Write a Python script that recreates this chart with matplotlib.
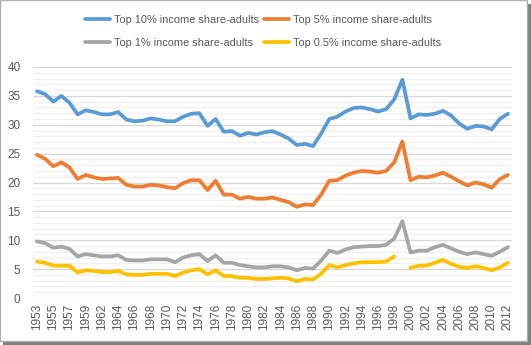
import matplotlib.pyplot as plt
import matplotlib.patches as mpatches
import numpy as np

# years in the sheet (1961 missing)
years = list(range(1953, 1961)) + list(range(1962, 2013))

top10 = [35.8, 35.3, 34.0, 35.0, 33.8, 31.8, 32.5, 32.2, 31.8, 31.8,
         32.2, 30.9, 30.6, 30.7, 31.1, 30.9, 30.6, 30.6, 31.4, 31.9,
         32.0, 29.8, 31.0, 28.8, 28.9, 28.1, 28.6, 28.3, 28.7, 28.9,
         28.3, 27.6, 26.5, 26.7, 26.3, 28.5, 31.0, 31.4, 32.3, 32.9,
         33.0, 32.7, 32.3, 32.7, 34.4, 37.8, 31.1, 31.8, 31.7, 31.9,
         32.4, 31.6, 30.2, 29.3, 29.8, 29.7, 29.2, 31.0, 31.9]

top5 = [24.8, 24.1, 22.8, 23.5, 22.6, 20.6, 21.3, 20.9, 20.6, 20.7,
        20.8, 19.6, 19.3, 19.3, 19.6, 19.5, 19.2, 19.0, 19.9, 20.4,
        20.4, 18.7, 20.3, 17.9, 17.9, 17.2, 17.5, 17.2, 17.2, 17.4,
        17.0, 16.6, 15.8, 16.2, 16.1, 17.9, 20.3, 20.4, 21.2, 21.7,
        22.0, 21.9, 21.7, 22.0, 23.5, 27.1, 20.4, 21.0, 20.9, 21.2,
        21.7, 21.0, 20.2, 19.5, 20.0, 19.7, 19.1, 20.6, 21.3]

top1 = [9.8, 9.5, 8.7, 8.9, 8.5, 7.2, 7.6, 7.4, 7.2, 7.2,
        7.4, 6.6, 6.5, 6.5, 6.7, 6.7, 6.7, 6.2, 7.0, 7.4,
        7.6, 6.4, 7.4, 6.1, 6.1, 5.7, 5.5, 5.3, 5.3, 5.5,
        5.5, 5.3, 4.8, 5.2, 5.1, 6.5, 8.2, 7.8, 8.4, 8.8,
        8.9, 9.0, 9.0, 9.2, 10.3, 13.3, 7.9, 8.2, 8.2, 8.8,
        9.2, 8.6, 8.0, 7.6, 7.9, 7.6, 7.3, 8.0, 8.8]

top05 = [6.3, 6.1, 5.6, 5.6, 5.6, 4.4, 4.8, 4.7, 4.5, 4.5,
         4.7, 4.1, 4.0, 4.0, 4.2, 4.2, 4.2, 3.8, 4.4, 4.8,
         5.0, 4.1, 4.8, 3.8, 3.8, 3.5, 3.5, 3.3, 3.3, 3.4,
         3.5, 3.4, 2.9, 3.3, 3.2, 4.2, 5.7, 5.3, 5.7, 6.0,
         6.2, 6.2, 6.2, 6.3, 7.2, np.nan, 5.2, 5.6, 5.6, 6.1,
         6.6, 5.9, 5.4, 5.2, 5.5, 5.2, 4.8, 5.3, 6.1]

plt.rcParams['font.family'] = ['Liberation Sans', 'DejaVu Sans']

fig = plt.figure(figsize=(5.31, 3.45), dpi=100)
ax = fig.add_axes([0.0621, 0.1362, 0.9021, 0.6696])

x = np.arange(len(years))
lw = 2.7
l1, = ax.plot(x, top10, color='#5B9BD5', lw=lw, solid_capstyle='round', label='Top 10% income share-adults')
l2, = ax.plot(x, top5, color='#ED7D31', lw=lw, solid_capstyle='round', label='Top 5% income share-adults')
l3, = ax.plot(x, top1, color='#A5A5A5', lw=lw, solid_capstyle='round', label='Top 1% income share-adults')
l4, = ax.plot(x, top05, color='#FFC000', lw=lw, solid_capstyle='round', label='Top 0.5% income share-adults')

ax.set_xlim(-0.5, len(years) - 0.5)
ax.set_ylim(0, 40)
ax.set_yticks(range(0, 41, 5))
ax.set_yticks(range(0, 41, 1), minor=True)
ax.set_xticks(x[::2])
ax.set_xticklabels([str(y) for y in years[::2]], rotation=90)
ax.grid(True, which='major', axis='y', color='#d9d9d9', lw=1.0)
ax.grid(True, which='minor', axis='y', color='#f0f0f0', lw=1.0)
ax.set_axisbelow(True)
for s in ax.spines.values():
    s.set_visible(False)
ax.tick_params(axis='both', which='both', length=0, colors='#595959', labelsize=8.5)
ax.tick_params(axis='y', pad=9)
ax.tick_params(axis='x', pad=4)

fig.legend([l1, l3, l2, l4], [l.get_label() for l in [l1, l3, l2, l4]],
           ncol=2, loc='upper center', bbox_to_anchor=(0.495, 0.985),
           frameon=False, fontsize=7.9, labelcolor='#595959',
           handlelength=2.3, handletextpad=0.35, columnspacing=0.45,
           labelspacing=1.2)

# chart frame with shadow
fig.patches.append(mpatches.Rectangle((0.006, 0.0), 0.994, 0.988, transform=fig.transFigure,
                                      facecolor='#7f7f7f', edgecolor='none', zorder=-2))
fig.patches.append(mpatches.Rectangle((0.0, 0.012), 0.992, 0.988, transform=fig.transFigure,
                                      facecolor='white', edgecolor='#b0b0b0', lw=1, zorder=-1))

fig.savefig('out.png', dpi=100)
